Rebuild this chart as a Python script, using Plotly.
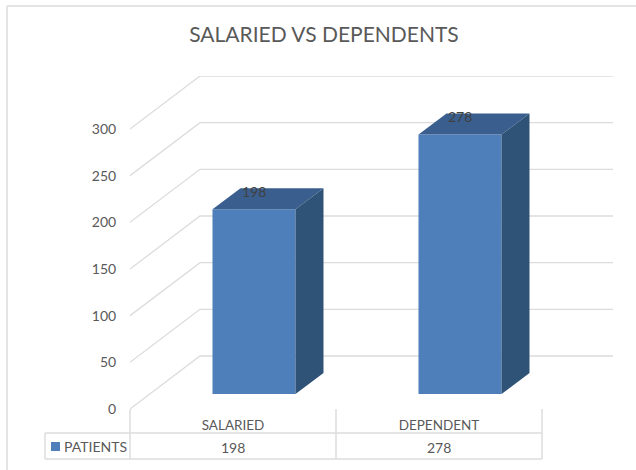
import plotly.graph_objects as go

categories = ["SALARIED", "DEPENDENT"]
patients = [198, 278]
y_ticks = [0, 50, 100, 150, 200, 250, 300]
series_name = "PATIENTS"
title_text = "SALARIED VS DEPENDENTS"

W, H = 636, 470
PX_L, PX_R, PX_T, PX_B = 130, 613, 76, 409
PX_Y = 280 / 300          # pixels per value unit
PX_X = 206                # pixels per category band
X0 = 233                  # pixel centre of the first band

def xu(px):  # pixel length -> x units
    return px / PX_X

def yu(px):  # pixel length -> y units
    return px / PX_Y

x_range = [(PX_L - X0) / PX_X, (PX_R - X0) / PX_X]
y_range = [0, (PX_B - PX_T) / PX_Y]

GRID = "#dcdcdc"
TXT = "#595959"
FONT = "Lato, 'Open Sans', sans-serif"
FRONT, TOP, SIDE = "#4e7fbb", "#3a5f8e", "#2f5277"

fig = go.Figure()

# back wall grid and side-wall diagonals, beneath the bars
wall_dx, wall_dy = xu(70), yu(53)
x_left, x_right = x_range[0], x_range[1]
for v in y_ticks:
    fig.add_shape(type="path", xref="x", yref="y", layer="below",
                  path=f"M {x_left} {v} L {x_left + wall_dx} {v + wall_dy} L {x_right} {v + wall_dy}",
                  line=dict(color=GRID, width=1.3))

# bars: front face by bar trace, top and side faces from the same values
bar_shift_x, bar_shift_y = xu(21), yu(15)
bar_w = xu(83)
depth_x, depth_y = xu(28), yu(21)
centres = [i + bar_shift_x for i in range(len(categories))]

fig.add_trace(go.Bar(
    x=centres, y=patients, base=bar_shift_y, width=bar_w, name=series_name,
    marker=dict(color=FRONT, line=dict(width=0)), showlegend=False))

for c, v in zip(centres, patients):
    l, r = c - bar_w / 2, c + bar_w / 2
    t, b = v + bar_shift_y, bar_shift_y
    fig.add_trace(go.Scatter(
        x=[l, l + depth_x, r + depth_x, r, l],
        y=[t, t + depth_y, t + depth_y, t, t],
        fill="toself", fillcolor=TOP, mode="lines", line=dict(width=0, color=TOP),
        hoverinfo="skip", showlegend=False))
    fig.add_trace(go.Scatter(
        x=[r, r + depth_x, r + depth_x, r, r],
        y=[t, t + depth_y, b + depth_y, b, t],
        fill="toself", fillcolor=SIDE, mode="lines", line=dict(width=0, color=SIDE),
        hoverinfo="skip", showlegend=False))
    fig.add_annotation(x=c, y=t, yshift=18, text=str(v), showarrow=False,
                       font=dict(size=14, color="#404040", family=FONT))

fig.update_layout(
    width=W, height=H, margin=dict(l=0, r=0, t=0, b=0),
    paper_bgcolor="white", plot_bgcolor="rgba(0,0,0,0)", showlegend=False,
    font=dict(family=FONT, color=TXT),
    title=dict(text=title_text, x=324 / W, xanchor="center", y=1 - 35 / H, yanchor="middle",
               font=dict(size=21, color=TXT, family=FONT), automargin=False),
    xaxis=dict(domain=[PX_L / W, PX_R / W], range=x_range, showgrid=False, zeroline=False,
               automargin=False,
               tickvals=list(range(len(categories))), ticktext=categories,
               ticks="outside", ticklen=4, tickcolor="rgba(0,0,0,0)", showline=False,
               tickfont=dict(size=13.5, color=TXT, family=FONT)),
    yaxis=dict(domain=[1 - PX_B / H, 1 - PX_T / H], range=y_range, showgrid=False, zeroline=False,
               automargin=False,
               tickvals=y_ticks, ticks="outside", ticklen=10, tickcolor="rgba(0,0,0,0)",
               showline=False, tickfont=dict(size=14, color=TXT, family=FONT)),
)

# data table beneath the plot
def line(x0, y0, x1, y1, color=GRID, width=1.5):
    fig.add_shape(type="line", xref="paper", yref="paper",
                  x0=x0 / W, x1=x1 / W, y0=1 - y0 / H, y1=1 - y1 / H,
                  line=dict(color=color, width=width))

line(45, 433, 542, 433)
line(45, 459, 542, 459)
line(45, 433, 45, 459)
for px in (130, 336, 542):
    line(px, 409, px, 459)
line(7, 6, 7, 470, color="#e4e4e4", width=2)
line(7, 6, 636, 6, color="#e4e4e4", width=2)

fig.add_shape(type="rect", xref="paper", yref="paper",
              x0=51 / W, x1=60 / W, y0=1 - 451 / H, y1=1 - 442 / H,
              fillcolor=FRONT, line=dict(width=0))
fig.add_annotation(xref="paper", yref="paper", x=64 / W, y=1 - 446 / H,
                   xanchor="left", yanchor="middle", xshift=-2,
                   text=series_name, showarrow=False,
                   font=dict(size=14, color=TXT, family=FONT))
for i, v in enumerate(patients):
    fig.add_annotation(xref="x", yref="paper", x=i, y=1 - 447 / H, yanchor="middle",
                       text=str(v), showarrow=False,
                       font=dict(size=14, color=TXT, family=FONT))

fig.write_html("out.html", config={"displayModeBar": False},
               post_script="document.body.style.margin='0';")
